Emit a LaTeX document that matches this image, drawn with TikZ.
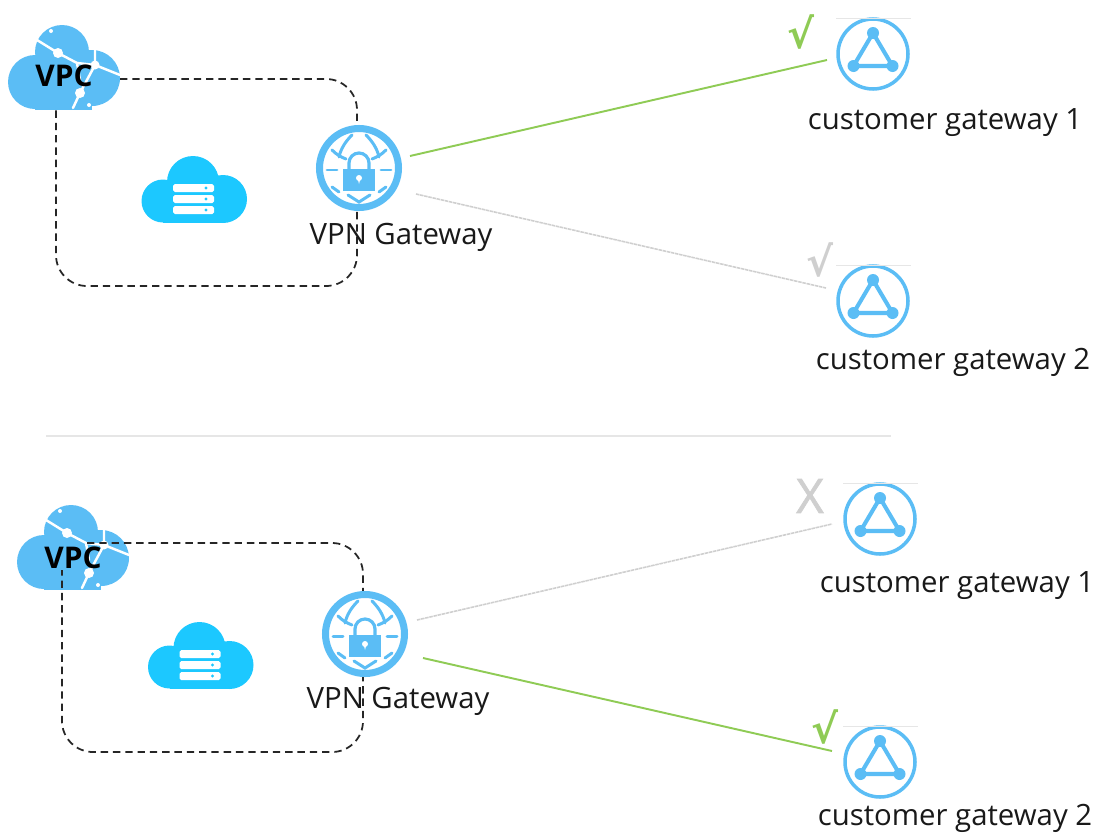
\documentclass[tikz,border=0pt]{standalone}
\usepackage{fontspec}
\setmainfont{Open Sans}
\newfontfamily\marksfont{DejaVu Sans}
\newfontfamily\crossfont[FakeBold=1.6]{Open Sans}
\usepackage{xcolor}
\usetikzlibrary{calc}
\definecolor{iconblue}{HTML}{5BBDF5}
\definecolor{serverblue}{HTML}{1CC8FF}
\definecolor{okgreen}{HTML}{8FCB55}
\definecolor{offgray}{HTML}{CFCFCF}
\definecolor{rulegray}{HTML}{E6E6E6}
\tikzset{
	gwlabel/.style={font=\fontsize{16.7}{20}\selectfont,text=black!90,inner sep=0pt},
	vpclabel/.style={font=\fontsize{17}{20}\selectfont\bfseries,text=black,inner sep=0pt},
	boxline/.style={black!85,line width=1pt,dash pattern=on 4.2pt off 2.8pt,rounded corners=0.62cm},
	greenline/.style={okgreen,line width=1.1pt},
	grayline/.style={offgray,line width=0.9pt,dash pattern=on 2pt off 0.4pt},
	markgreen/.style={font=\marksfont\fontsize{23}{26}\selectfont\bfseries,text=okgreen,inner sep=0pt},
	markgray/.style={font=\marksfont\fontsize{23}{26}\selectfont\bfseries,text=offgray,inner sep=0pt},
	markcross/.style={font=\crossfont\fontsize{27}{30}\selectfont,text=offgray,inner sep=0pt},
	crack/.style={white,line width=1.4pt,line cap=round,line join=round},
	globeline/.style={iconblue,line width=1.7pt,line cap=round},
}
% #1 shift
\newcommand{\prvpccloud}[1]{
	\begin{scope}[shift={(#1)}]
		\fill[iconblue] (35,82) circle (27) (92,78) circle (28) (62,52) circle (27);
		\fill[iconblue] (35,70) rectangle (92,109.5);
		\draw[crack] (37,40) -- (58,53) -- (77,63) -- (95,65) -- (120,75);
		\draw[crack] (95,50) -- (95,65) -- (80,93) -- (73,108);
		\draw[crack] (77,63) -- (80,80);
		\fill[white] (58,53) circle (5) (95,65) circle (4.5) (80,93) circle (5);
		\fill[white] (51,31) circle (2) (89,105) circle (2);
	\end{scope}
}
\newcommand{\prservercloud}[1]{
	\begin{scope}[shift={(#1)}]
		\fill[serverblue] (163,201) circle (21.5) (223,199) circle (24) (193,182) circle (26);
		\fill[serverblue] (163,190) rectangle (223,222.8);
		\foreach \bary in {184,195,206}{
			\fill[white,rounded corners=1pt] (173,\bary) rectangle (214,\bary+8);
			\fill[serverblue] (206,\bary+4) circle (1.6);
		}
	\end{scope}
}
% #1 node name, #2 centre
\newcommand{\prvpnicon}[2]{
	\node[circle,fill=white,draw=iconblue,line width=4pt,minimum size=79*0.02cm,inner sep=0pt] (#1) at (#2) {};
	\begin{scope}[shift={(#2)}]
		\draw[globeline] (-32,2) -- (-22,2) (22,2) -- (32,2);
		\draw[globeline] (-27,-18) .. controls (-22,-13) and (-18,-11) .. (-13,-9);
		\draw[globeline] (27,-18) .. controls (22,-13) and (18,-11) .. (13,-9);
		\draw[globeline] (-7,-33) .. controls (-13,-27) and (-18,-20) .. (-20,-11);
		\draw[globeline] (7,-33) .. controls (13,-27) and (18,-20) .. (20,-11);
		\draw[globeline] (-27,19) -- (-20,24) (27,19) -- (20,24);
		\draw[globeline] (-11,27) -- (0,34) -- (11,27);
		\draw[iconblue,line width=1.8pt] (-10,2) -- (-10,-5) arc (180:360:10) -- (10,2);
		\fill[iconblue] (-16,1) rectangle (16,23);
		\fill[white] (0,10) circle (3) (-1.5,10) -- (1.5,10) -- (0,16) -- cycle;
	\end{scope}
}
\newcommand{\prcustomer}[2]{
	\node[circle,fill=white,draw=iconblue,line width=2pt,minimum size=70*0.02cm,inner sep=0pt] (#1) at (#2) {};
	\begin{scope}[shift={(#2)}]
		\draw[rulegray,line width=0.5pt] (-37,-36) -- (38,-36);
		\draw[iconblue,line width=2.3pt,line join=round] (0,-21) -- (-19.5,12) -- (19.5,12) -- cycle;
		\fill[iconblue] (0,-21) circle (6) (-19.5,12) circle (6) (19.5,12) circle (6);
	\end{scope}
}
\begin{document}
\begin{tikzpicture}[x=0.02cm,y=-0.02cm]
	\useasboundingbox (0,0) rectangle (1095,832);
	
	% upper part
	\prvpccloud{0,0}
	\prservercloud{0,0}
	\draw[boxline] (120,79) -| (357,286) -| (56,110);
	\node[vpclabel] (vpcA) at (64,76) {VPC};
	\prvpnicon{vpnA}{359,168}
	\node[gwlabel] (vpnAlabel) at (401,237) {VPN Gateway};
	\prcustomer{cgwAone}{873,54}
	\prcustomer{cgwAtwo}{873,301}
	\node[gwlabel] (cgwAonelabel) at (945,123) {customer gateway 1};
	\node[gwlabel] (cgwAtwolabel) at (953,362) {customer gateway 2};
	\node[markgreen] (markAone) at (801,32) {√};
	\node[markgray] (markAtwo) at (820,260) {√};
	
	\coordinate (vpnAup) at (410,156);
	\coordinate (vpnAdown) at (416,194);
	\coordinate (cgwAonein) at (827,60);
	\coordinate (cgwAtwoin) at (826,288);
	\draw[greenline] (vpnAup) -- (cgwAonein);
	\draw[grayline] (vpnAdown) -- (cgwAtwoin);
	
	\coordinate (ruleleft) at (46,436);
	\coordinate (ruleright) at (891,436);
	\draw[rulegray,line width=0.6pt] (ruleleft) -- (ruleright);
	
	% lower part
	\prvpccloud{9,480}
	\prservercloud{6.5,466}
	\node[vpclabel] (vpcB) at (73,558) {VPC};
	\draw[boxline] (87,543) -| (363,752) -| (62,570);
	\prvpnicon{vpnB}{365,634}
	\node[gwlabel] (vpnBlabel) at (398,701) {VPN Gateway};
	\prcustomer{cgwBone}{880,519}
	\prcustomer{cgwBtwo}{880,762}
	\node[gwlabel] (cgwBonelabel) at (957,586) {customer gateway 1};
	\node[gwlabel] (cgwBtwolabel) at (955,818) {customer gateway 2};
	\node[markcross] (markBone) at (810,496) {X};
	\node[markgreen] (markBtwo) at (825,727) {√};
	
	\coordinate (vpnBup) at (417,620);
	\coordinate (vpnBdown) at (423,658);
	\coordinate (cgwBonein) at (832,524);
	\coordinate (cgwBtwoin) at (832,751);
	\draw[grayline] (vpnBup) -- (cgwBonein);
	\draw[greenline] (vpnBdown) -- (cgwBtwoin);
\end{tikzpicture}
\end{document}
